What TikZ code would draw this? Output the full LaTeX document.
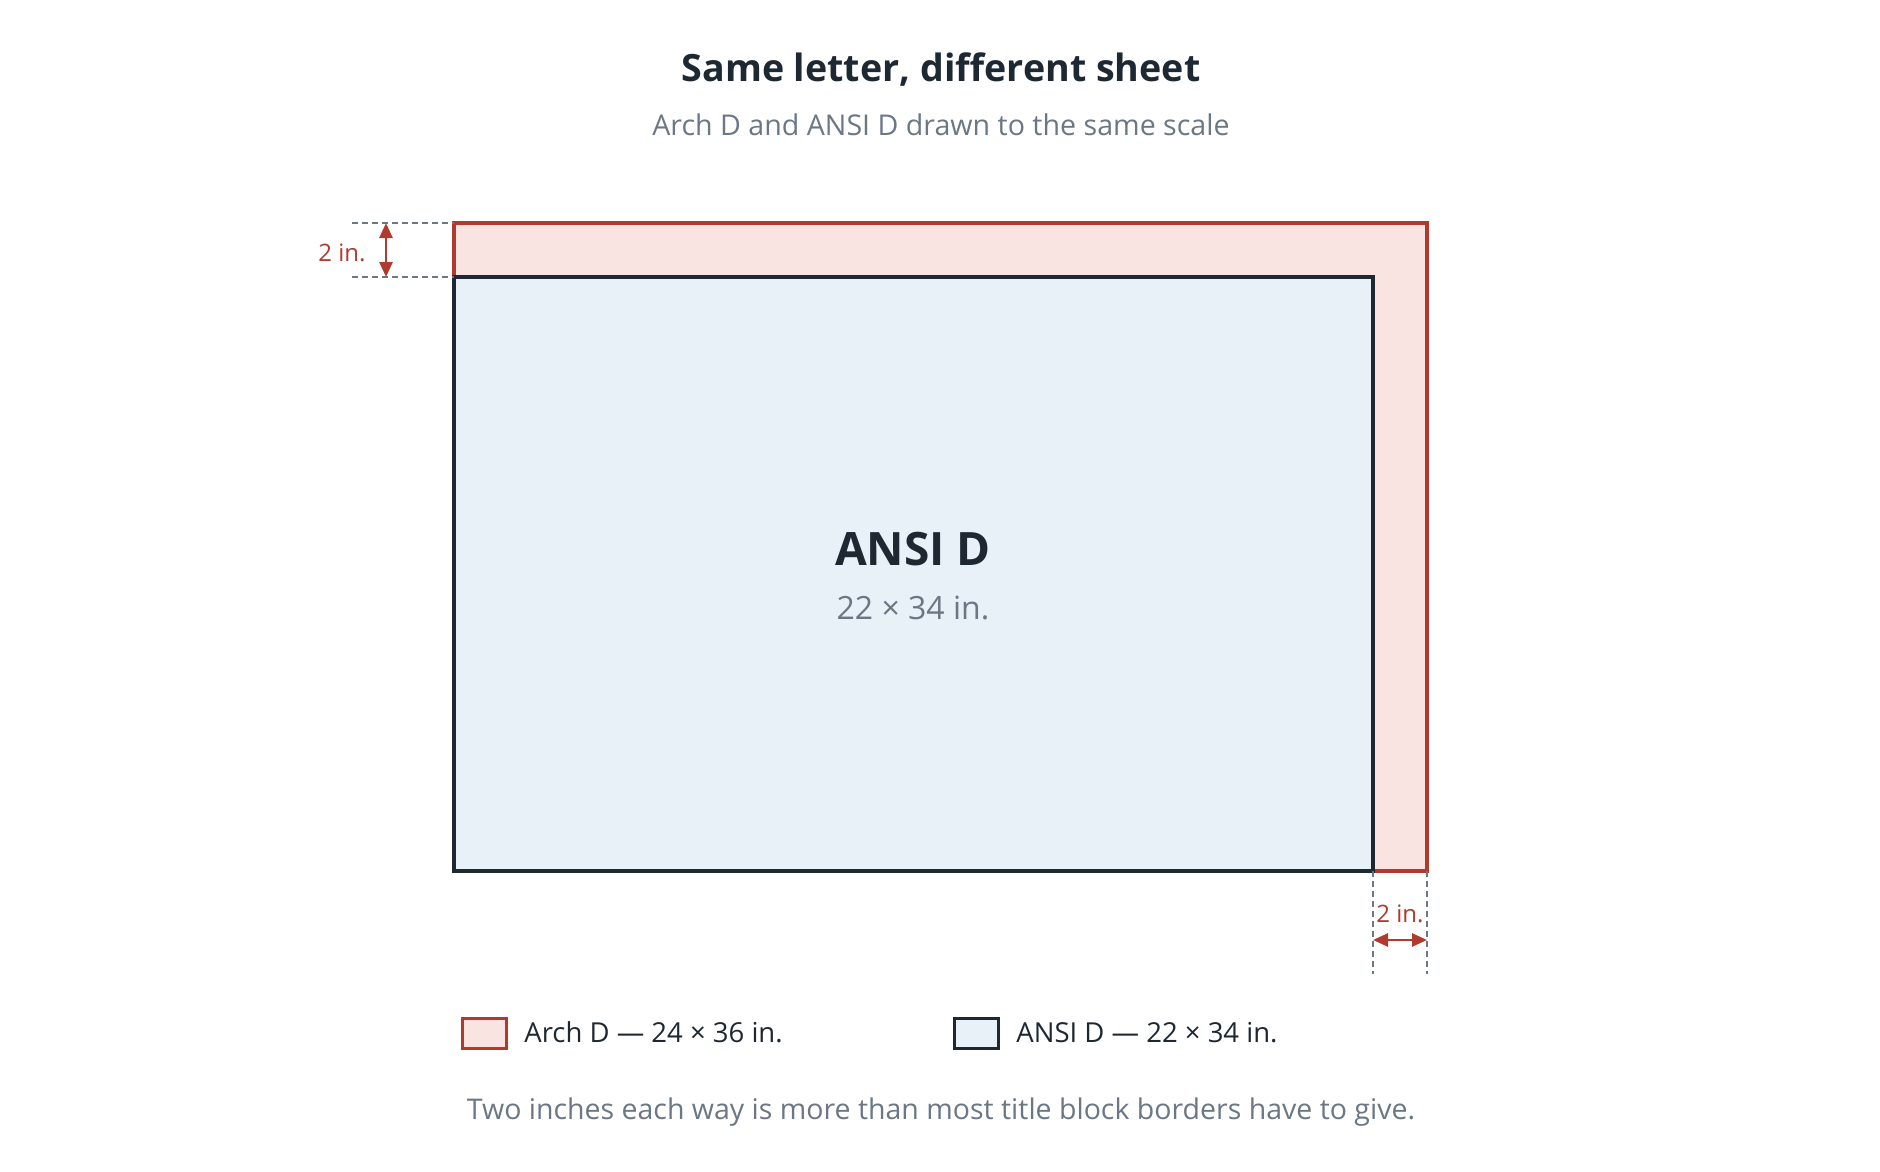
\documentclass[tikz,border=0pt]{standalone}
\usepackage{fontspec}
\setmainfont{Open Sans}
\usetikzlibrary{arrows.meta}

\definecolor{archrouge}{HTML}{B03A2E}
\definecolor{archfond}{HTML}{F9E4E2}
\definecolor{ansinoir}{HTML}{1E2833}
\definecolor{ansifond}{HTML}{E8F0F8}
\definecolor{gristexte}{HTML}{6B7785}
\definecolor{gristrait}{HTML}{6E7781}

\tikzset{
    feuillearch/.style={fill=archfond,draw=archrouge,line width=1.7pt},
    feuilleansi/.style={fill=ansifond,draw=ansinoir,line width=1.6pt},
    rappel/.style={gristrait,line width=0.9pt,dash pattern=on 3pt off 2pt},
    cote/.style={archrouge,line width=1.3pt,{Triangle[length=7.5pt,width=6.5pt]}-{Triangle[length=7.5pt,width=6.5pt]}},
    etiquette/.style={archrouge,inner sep=0pt,font=\fontsize{12}{15}\selectfont},
    legende/.style={ansinoir,inner sep=0pt,font=\fontsize{13.75}{17}\selectfont,anchor=base west}
}

\begin{document}
\begin{tikzpicture}[x=0.5pt,y=-0.5pt]
    % Cadre de l'image
    \useasboundingbox[fill=white] (0,0) rectangle (1880,1172);

    % Titres
    \node[anchor=base,ansinoir,font=\fontsize{18.8}{23}\selectfont\bfseries] (titre) at (941,82) {Same letter, different sheet};
    \node[anchor=base,gristexte,font=\fontsize{14.3}{17}\selectfont] (soustitre) at (941,136) {Arch D and ANSI D drawn to the same scale};

    % Coins des feuilles (27 px par pouce)
    \coordinate (archNO) at (454,223);
    \coordinate (archSE) at (1427,871);
    \coordinate (ansiNO) at (454,277);
    \coordinate (ansiSE) at (1373,871);

    % Feuilles
    \draw[feuillearch] (archNO) rectangle (archSE);
    \draw[feuilleansi] (ansiNO) rectangle (ansiSE);
    \node[anchor=base,ansinoir,font=\fontsize{23}{27}\selectfont\bfseries] (nomansi) at (913,565) {ANSI D};
    \node[anchor=base,gristexte,font=\fontsize{16}{19}\selectfont] (tailleansi) at (913,619) {22 × 34 in.};

    % Cote en haut
    \coordinate (haut1) at (352,223);
    \coordinate (haut2) at (352,277);
    \coordinate (flecheA) at (386,223);
    \coordinate (flecheB) at (386,277);
    \draw[rappel] (haut1) -- (archNO);
    \draw[rappel] (haut2) -- (ansiNO);
    \draw[cote] (flecheA) -- (flecheB);
    \node[etiquette,anchor=base east] (coteh) at (366,261) {2 in.};

    % Cote en bas
    \coordinate (bas1) at (1373,974);
    \coordinate (bas2) at (1427,974);
    \coordinate (flecheC) at (1373,940);
    \coordinate (flecheD) at (1427,940);
    \draw[rappel] (ansiSE) -- (bas1);
    \draw[rappel] (archSE) -- (bas2);
    \draw[cote] (flecheC) -- (flecheD);
    \node[etiquette,anchor=base] (coteb) at (1400,922) {2 in.};

    % Legende
    \draw[feuillearch,line width=1.5pt] (462,1018) rectangle (506,1048);
    \node[legende] (legarch) at (524,1042) {Arch D — 24 × 36 in.};
    \draw[feuilleansi,line width=1.5pt] (954,1018) rectangle (998,1048);
    \node[legende] (legansi) at (1016,1042) {ANSI D — 22 × 34 in.};

    % Note
    \node[anchor=base,gristexte,font=\fontsize{14.25}{17}\selectfont] (note) at (941,1119) {Two inches each way is more than most title block borders have to give.};
\end{tikzpicture}
\end{document}
